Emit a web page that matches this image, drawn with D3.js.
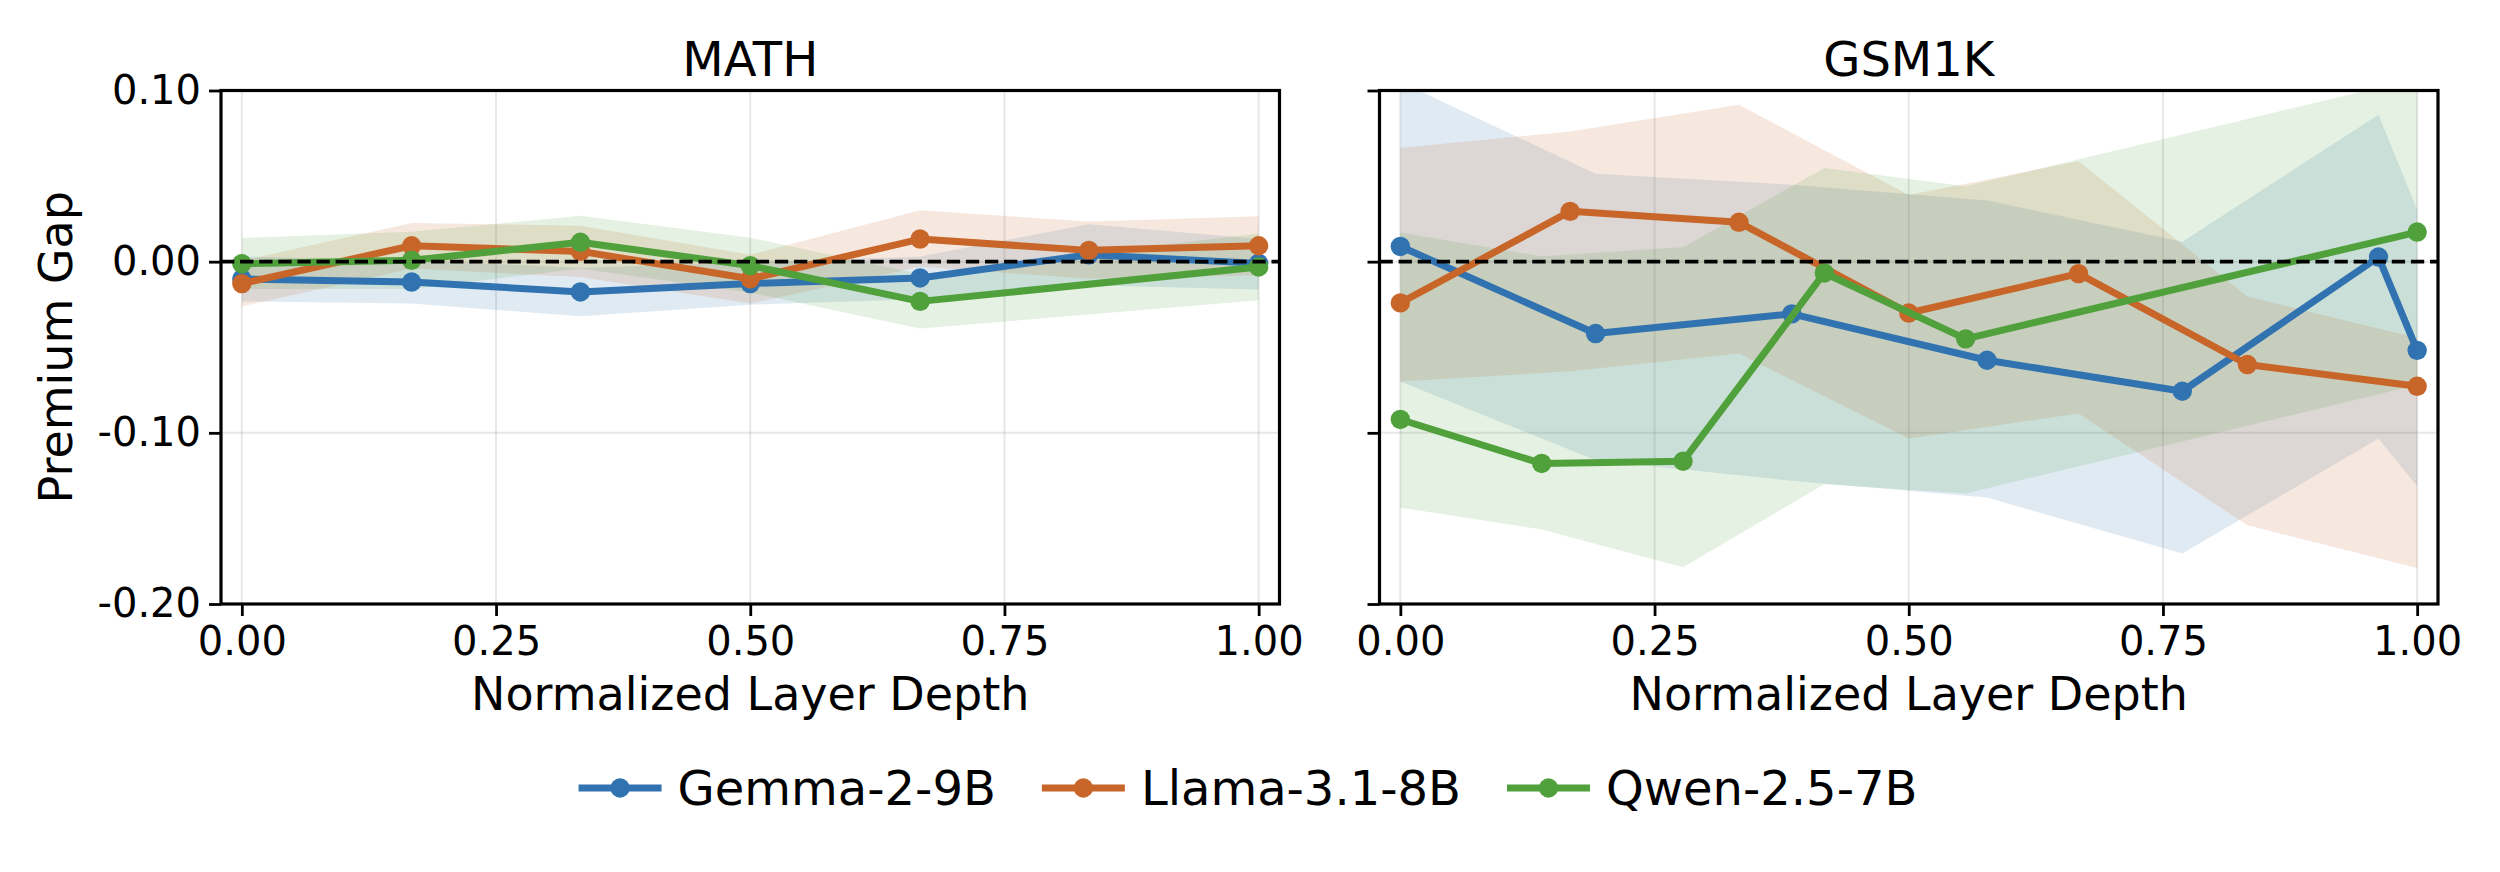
<!DOCTYPE html>
<html><head><meta charset="utf-8">
<script src="https://cdn.jsdelivr.net/npm/d3@7/dist/d3.min.js"></script>
<style>body{margin:0;background:#fff} text{font-family:"DejaVu Sans",sans-serif;fill:#000}</style>
</head><body><svg id="c" width="2500" height="872"></svg>
<script>
// ---- tick labels / categories ----
const xTicks=[0,0.25,0.5,0.75,1.0];
const yTicks=[0.10,0.00,-0.10,-0.20];
const models=["Gemma-2-9B","Llama-3.1-8B","Qwen-2.5-7B"];
const colors=["#3173b0","#c8662a","#50a03c"];
const panelTitles=["MATH","GSM1K"];

// ---- MATH ----
const mathGemmaX=[0,0.167,0.333,0.5,0.667,0.833,1.0];
const mathGemma=[-0.0101,-0.0119,-0.0177,-0.0128,-0.0095,0.004,-0.001];
const mathGemmaLo=[-0.0232,-0.0245,-0.0319,-0.0251,-0.022,-0.0138,-0.0163];
const mathGemmaHi=[0.003,0.0007,-0.0035,-0.0005,0.003,0.0218,0.0132];

const mathLlamaX=[0,0.167,0.333,0.5,0.667,0.833,1.0];
const mathLlama=[-0.0128,0.0093,0.006,-0.010,0.0132,0.0066,0.0093];
const mathLlamaLo=[-0.0261,-0.004,-0.009,-0.0245,-0.003,-0.010,-0.008];
const mathLlamaHi=[0.0005,0.0226,0.021,0.004,0.030,0.0235,0.0265];

const mathQwenX=[0,0.167,0.333,0.5,0.667,1.0];
const mathQwen=[-0.0012,0.0008,0.0113,-0.0023,-0.0232,-0.0031];
const mathQwenLo=[-0.016,-0.016,-0.004,-0.018,-0.0391,-0.0226];
const mathQwenHi=[0.0138,0.0175,0.0268,0.014,-0.0073,0.0164];

// ---- GSM1K ----
const gsmGemmaX=[0,0.192,0.385,0.577,0.769,0.962,1.0];
const gsmGemma=[0.0089,-0.042,-0.0305,-0.0576,-0.0757,0.0027,-0.0518];
const gsmGemmaLo=[-0.070,-0.116,-0.128,-0.1378,-0.1705,-0.1033,-0.1312];
const gsmGemmaHi=[0.105,0.0514,0.045,0.0358,0.0117,0.0858,0.0304];

const gsmLlamaX=[0,0.167,0.333,0.5,0.667,0.833,1.0];
const gsmLlama=[-0.0241,0.0294,0.023,-0.030,-0.007,-0.0601,-0.0728];
const gsmLlamaLo=[-0.070,-0.064,-0.0537,-0.1033,-0.0887,-0.154,-0.179];
const gsmLlamaHi=[0.0664,0.0761,0.0917,0.039,0.0586,-0.0203,-0.0446];

const gsmQwenX=[0,0.139,0.278,0.417,0.556,1.0];
const gsmQwen=[-0.0922,-0.1179,-0.1166,-0.0066,-0.0451,0.0173];
const gsmQwenLo=[-0.1437,-0.1565,-0.1785,-0.130,-0.1354,-0.072];
const gsmQwenHi=[0.0171,0.0031,0.0084,0.0547,0.044,0.107];

const svg=d3.select("#c");
const TOP=90.5,BOTTOM=604,W=1058.5;
const fmt=d=>d3.format(".2f")(d).replace("\u2212","-");

const panels=[
 {title:panelTitles[0],left:221,showY:true,series:[
   {x:mathGemmaX,m:mathGemma,lo:mathGemmaLo,hi:mathGemmaHi},
   {x:mathLlamaX,m:mathLlama,lo:mathLlamaLo,hi:mathLlamaHi},
   {x:mathQwenX,m:mathQwen,lo:mathQwenLo,hi:mathQwenHi}]},
 {title:panelTitles[1],left:1379.5,showY:false,series:[
   {x:gsmGemmaX,m:gsmGemma,lo:gsmGemmaLo,hi:gsmGemmaHi},
   {x:gsmLlamaX,m:gsmLlama,lo:gsmLlamaLo,hi:gsmLlamaHi},
   {x:gsmQwenX,m:gsmQwen,lo:gsmQwenLo,hi:gsmQwenHi}]}
];

panels.forEach((p,pi)=>{
  const x=d3.scaleLinear().domain([-0.0205,1.0205]).range([p.left,p.left+W]);
  const y=d3.scaleLinear().domain([-0.2,0.1]).range([BOTTOM,TOP]);
  const g=svg.append("g");
  const cid="clip"+pi;
  svg.append("clipPath").attr("id",cid).append("rect")
    .attr("x",p.left).attr("y",TOP).attr("width",W).attr("height",BOTTOM-TOP);

  // grid
  g.append("g").selectAll("line").data(xTicks).join("line")
    .attr("x1",d=>x(d)).attr("x2",d=>x(d)).attr("y1",TOP).attr("y2",BOTTOM)
    .attr("stroke","#b0b0b0").attr("stroke-opacity",0.3).attr("stroke-width",2);
  g.append("g").selectAll("line").data(yTicks).join("line")
    .attr("x1",p.left).attr("x2",p.left+W).attr("y1",d=>y(d)).attr("y2",d=>y(d))
    .attr("stroke","#b0b0b0").attr("stroke-opacity",0.3).attr("stroke-width",2);

  const plot=g.append("g").attr("clip-path",`url(#${cid})`);
  // bands
  p.series.forEach((s,i)=>{
    const idx=d3.range(s.x.length);
    plot.append("path").datum(idx)
      .attr("d",d3.area().x(j=>x(s.x[j])).y0(j=>y(s.lo[j])).y1(j=>y(s.hi[j])))
      .attr("fill",colors[i]).attr("fill-opacity",0.15).attr("stroke","none");
  });
  // lines + markers
  p.series.forEach((s,i)=>{
    const idx=d3.range(s.x.length);
    plot.append("path").datum(idx)
      .attr("d",d3.line().x(j=>x(s.x[j])).y(j=>y(s.m[j])))
      .attr("fill","none").attr("stroke",colors[i]).attr("stroke-width",7)
      .attr("stroke-linejoin","round").attr("stroke-linecap","round");
    plot.append("g").selectAll("circle").data(idx).join("circle")
      .attr("cx",j=>x(s.x[j])).attr("cy",j=>y(s.m[j])).attr("r",9.7)
      .attr("fill",colors[i]);
  });
  // zero line
  plot.append("line").attr("x1",p.left).attr("x2",p.left+W).attr("y1",y(0)).attr("y2",y(0))
    .attr("stroke","#000").attr("stroke-width",3.6).attr("stroke-dasharray","13.3,5.8");

  // axes
  const xa=g.append("g").attr("transform",`translate(0,${BOTTOM})`)
    .call(d3.axisBottom(x).tickValues(xTicks).tickFormat(fmt).tickSize(12).tickPadding(11));
  const ya=g.append("g").attr("transform",`translate(${p.left},0)`)
    .call(d3.axisLeft(y).tickValues(yTicks).tickFormat(p.showY?fmt:()=> "").tickSize(12).tickPadding(8));
  [xa,ya].forEach(a=>{
    a.select(".domain").remove();
    a.selectAll(".tick line").attr("stroke","#000").attr("stroke-width",2.8);
    a.selectAll(".tick text").style("font-family","DejaVu Sans").style("font-size","40px").attr("fill","#000");
  });
  // frame
  g.append("rect").attr("x",p.left).attr("y",TOP).attr("width",W).attr("height",BOTTOM-TOP)
    .attr("fill","none").attr("stroke","#000").attr("stroke-width",3.2);

  // title & x label
  g.append("text").attr("x",p.left+W/2).attr("y",76).attr("text-anchor","middle")
    .style("font-size","48px").text(p.title);
  g.append("text").attr("x",p.left+W/2).attr("y",710).attr("text-anchor","middle")
    .style("font-size","46px").text("Normalized Layer Depth");
  if(p.showY){
    g.append("text").attr("transform",`translate(72,${(TOP+BOTTOM)/2}) rotate(-90)`)
      .attr("text-anchor","middle").style("font-size","46px").text("Premium Gap");
  }
});

// legend
const leg=svg.append("g");
const LY=788, HL=83, G1=16, G2=46;
const items=models.map((m,i)=>{
  const gi=leg.append("g");
  gi.append("line").attr("x1",0).attr("x2",HL).attr("y1",0).attr("y2",0)
    .attr("stroke",colors[i]).attr("stroke-width",7);
  gi.append("circle").attr("cx",HL/2).attr("cy",0).attr("r",9.7).attr("fill",colors[i]);
  const t=gi.append("text").attr("x",HL+G1).attr("y",0).attr("dy","0.36em")
    .style("font-size","48px").text(m);
  return {g:gi,w:HL+G1+t.node().getComputedTextLength()};
});
const total=d3.sum(items,d=>d.w)+G2*(items.length-1);
let cx=1248-total/2;
items.forEach(it=>{ it.g.attr("transform",`translate(${cx},${LY})`); cx+=it.w+G2; });
</script></body></html>
